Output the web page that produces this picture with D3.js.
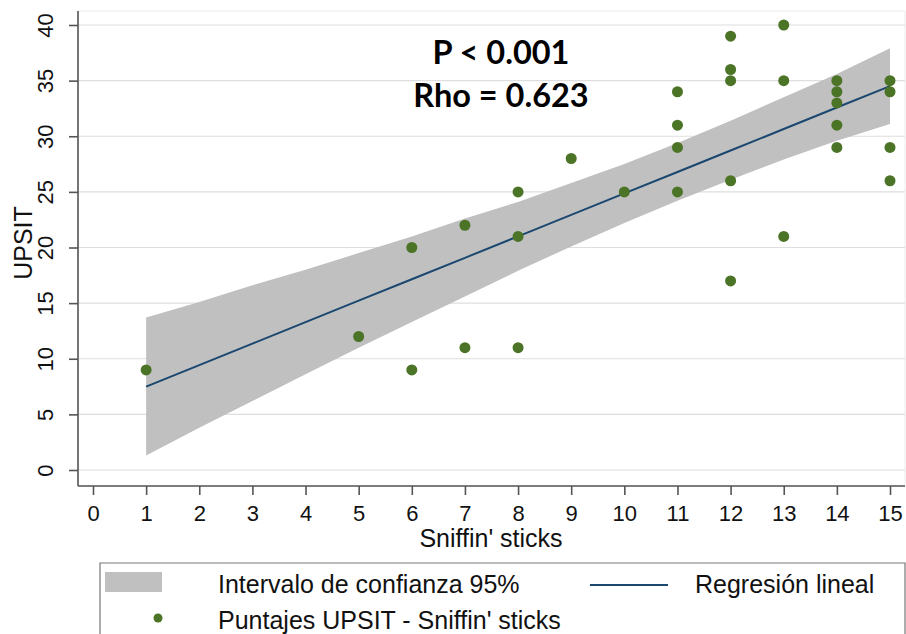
<!DOCTYPE html>
<html><head><meta charset="utf-8">
<script src="https://cdn.jsdelivr.net/npm/d3@7"></script>
<style>body{margin:0;background:#fff}svg{display:block}</style>
</head><body><svg id="c" width="906" height="634"></svg>
<script>
// Data
const pointX = [1,5,6,6,7,7,8,8,8,9,10,11,11,11,11,12,12,12,12,12,13,13,13,14,14,14,14,14,15,15,15,15];
const pointY = [9,12,20,9,22,11,25,21,11,28,25,34,31,29,25,39,36,35,26,17,40,35,21,35,34,33,31,29,35,34,29,26];
const fitX   = [1,2,3,4,5,6,7,8,9,10,11,12,13,14,15];
const fitY   = [7.5,9.43,11.36,13.29,15.22,17.15,19.07,21.0,22.93,24.86,26.79,28.72,30.65,32.58,34.5];
const ciLow  = [1.3,3.8,6.2,8.6,11.0,13.3,15.6,17.9,20.1,22.2,24.2,26.1,27.9,29.6,31.1];
const ciHigh = [13.7,15.1,16.6,18.0,19.5,21.0,22.6,24.1,25.8,27.5,29.4,31.4,33.5,35.6,37.9];
const xTicks = [0,1,2,3,4,5,6,7,8,9,10,11,12,13,14,15];
const yTicks = [0,5,10,15,20,25,30,35,40];
const statLines = ["P < 0.001","Rho = 0.623"];
const legendLabels = ["Intervalo de confianza 95%","Regresión lineal","Puntajes UPSIT - Sniffin' sticks"];
const xTitle = "Sniffin' sticks", yTitle = "UPSIT";

(function(){
const svg = d3.select("#c");
const pL = 78, pR = 905, pT = 11, pB = 486;
const x = d3.scaleLinear().domain([0,15]).range([93,890]);
const y = d3.scaleLinear().domain([0,40]).range([470,25]);
const font = "'Liberation Sans', Arial, sans-serif";

// plot frame
svg.append("rect").attr("x",pL).attr("y",pT).attr("width",pR-pL).attr("height",pB-pT)
  .attr("fill","#fff").attr("stroke","#ececec");
// gridlines
svg.append("g").selectAll("line").data(yTicks).join("line")
  .attr("x1",pL).attr("x2",pR).attr("y1",d=>y(d)).attr("y2",d=>y(d))
  .attr("stroke","#dedede").attr("stroke-width",1.2);

// CI band
const band = fitX.map((d,i)=>({x:d,lo:ciLow[i],hi:ciHigh[i]}));
svg.append("path").datum(band)
  .attr("d", d3.area().x(d=>x(d.x)).y0(d=>y(d.lo)).y1(d=>y(d.hi)))
  .attr("fill","#c0c0c0");
// fit line
svg.append("path").datum(fitX.map((d,i)=>[d,fitY[i]]))
  .attr("d", d3.line().x(d=>x(d[0])).y(d=>y(d[1])))
  .attr("fill","none").attr("stroke","#1a476f").attr("stroke-width",2);
// points
svg.append("g").selectAll("circle").data(pointX.map((d,i)=>[d,pointY[i]])).join("circle")
  .attr("cx",d=>x(d[0])).attr("cy",d=>y(d[1])).attr("r",5.5).attr("fill","#4c7427");

// axes
const xa = svg.append("g").attr("transform",`translate(0,${pB})`)
  .call(d3.axisBottom(x).tickValues(xTicks).tickSize(9).tickPadding(4).tickFormat(d3.format("d")));
xa.select(".domain").attr("d",`M${pL},0H${pR}`);
const ya = svg.append("g").attr("transform",`translate(${pL},0)`)
  .call(d3.axisLeft(y).tickValues(yTicks).tickSize(9).tickFormat(d3.format("d")));
ya.select(".domain").attr("d",`M0,${pT}V${pB}`);
[xa,ya].forEach(a=>{
  a.select(".domain").attr("stroke","#555").attr("stroke-width",1.6);
  a.selectAll(".tick line").attr("stroke","#555").attr("stroke-width",1.6);
  a.selectAll("text").attr("font-family",font).attr("font-size",22).attr("fill","#111");
});
xa.selectAll(".tick text").attr("dy",null).attr("y",35);
ya.selectAll(".tick text").attr("x",null).attr("dy",null)
  .attr("text-anchor","middle")
  .attr("transform","translate(-25,0) rotate(-90)");

// axis titles
svg.append("text").attr("x",491).attr("y",547).attr("text-anchor","middle")
  .attr("font-family",font).attr("font-size",25).attr("fill","#111").text(xTitle);
svg.append("text").attr("transform","translate(32,243) rotate(-90)").attr("text-anchor","middle")
  .attr("font-family",font).attr("font-size",25).attr("fill","#111").text(yTitle);

// stat annotations
svg.append("g").selectAll("text").data(statLines).join("text")
  .attr("x",501).attr("y",(d,i)=>64+i*43).attr("text-anchor","middle")
  .attr("font-family","Lato, 'Open Sans', sans-serif").attr("font-weight",700)
  .attr("font-size",32.5).attr("fill","#000").text(d=>d);

// legend
const lg = svg.append("g");
lg.append("path").attr("d","M100,640V563H905V640").attr("fill","#fff").attr("stroke","#777").attr("stroke-width",1.2);
lg.append("rect").attr("x",105).attr("y",572).attr("width",57).attr("height",20).attr("fill","#c0c0c0");
lg.append("line").attr("x1",590).attr("x2",668).attr("y1",585).attr("y2",585).attr("stroke","#1a476f").attr("stroke-width",2);
lg.append("circle").attr("cx",158).attr("cy",618).attr("r",4.5).attr("fill","#4c7427");
const lgPos = [[218,593],[695,593],[218,629]];
lg.selectAll("text").data(legendLabels).join("text")
  .attr("x",(d,i)=>lgPos[i][0]).attr("y",(d,i)=>lgPos[i][1])
  .attr("font-family",font).attr("font-size",25).attr("fill","#111").text(d=>d);
})();
</script></body></html>
